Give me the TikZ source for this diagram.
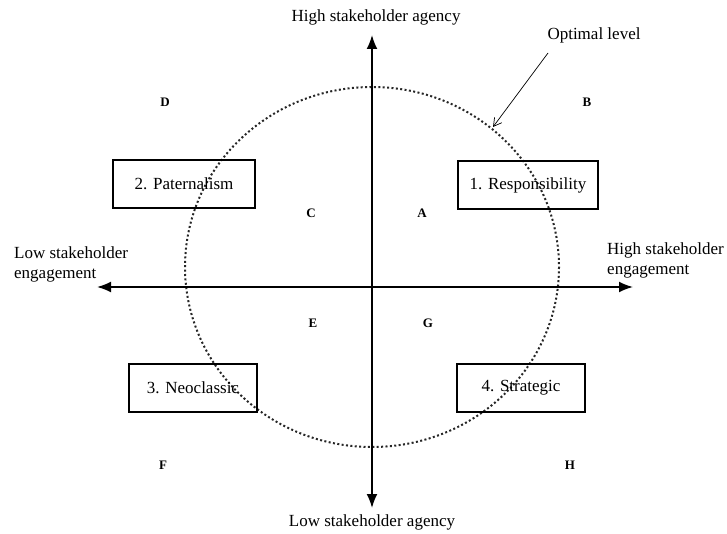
\documentclass[tikz,border=0pt]{standalone}
\usepackage{fontspec}
\setmainfont{Liberation Serif}
\usetikzlibrary{arrows.meta}
\begin{document}
\begin{tikzpicture}[x=1pt,y=-1pt,
  lbl/.style={font=\fontsize{17}{20}\selectfont, inner sep=0pt},
  letter/.style={font=\fontsize{13}{15}\selectfont\bfseries, inner sep=0pt},
  quad/.style={draw, line width=2pt, minimum width=#1, minimum height=48pt, inner sep=0pt, font=\fontsize{17}{20}\selectfont},
  axis/.style={line width=1.8pt, -{Latex[length=14pt,width=11pt]}}
]
\useasboundingbox (0,0) rectangle (727,534);
% optimal level circle
\draw[line width=2pt, dash pattern=on 2pt off 2.4pt, black!85] (372,267) ellipse [x radius=187, y radius=180];
% axes
\coordinate (o) at (372,287);
\coordinate (top) at (372,35);
\coordinate (bot) at (372,508);
\coordinate (lft) at (97,287);
\coordinate (rgt) at (633,287);
\draw[axis] (o) -- (top);
\draw[axis] (o) -- (bot);
\draw[axis] (o) -- (lft);
\draw[axis] (o) -- (rgt);
% axis labels
\node[lbl] (hsa) at (376,17) {High stakeholder agency};
\node[lbl] (lsa) at (372,522) {Low stakeholder agency};
\node[lbl, anchor=west, align=left] (lse) at (14,264) {Low stakeholder\\engagement};
\node[lbl, anchor=west, align=left] (hse) at (607,260) {High stakeholder\\engagement};
% boxes
\node[quad=142pt] (pat) at (184,184) {2. Paternalism};
\node[quad=140pt] (res) at (528,185) {1. Responsibility};
\node[quad=128pt] (neo) at (193,388) {3. Neoclassic};
\node[quad=128pt] (str) at (521,388) {4. Strategic};
% letters
\node[letter] (D) at (165,102) {D};
\node[letter] (B) at (587,102) {B};
\node[letter] (C) at (311,213) {C};
\node[letter] (A) at (422,213) {A};
\node[letter] (E) at (313,323) {E};
\node[letter] (G) at (428,323) {G};
\node[letter] (F) at (163,465) {F};
\node[letter] (H) at (570,465) {H};
% optimal level
\node[lbl] (opt) at (594,35) {Optimal level};
\coordinate (optend) at (493,127);
\draw[line width=0.7pt, -{Straight Barb[length=8pt,width=9pt]}] (548,53) -- (optend);
\end{tikzpicture}
\end{document}
